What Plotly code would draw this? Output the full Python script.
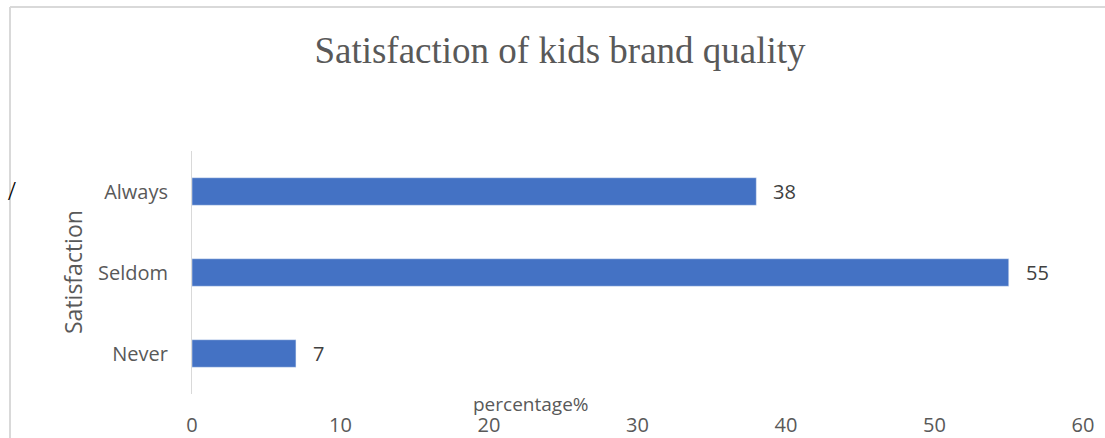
import plotly.graph_objects as go

categories = ["Always", "Seldom", "Never"]
values = [38, 55, 7]
x_ticks = [0, 10, 20, 30, 40, 50, 60]

W, H = 1105, 438
L, R, T, B = 192, 22, 151, 44
pw, ph = W - L - R, H - T - B

def px_x(px):
    return (px - L) / pw

def px_y(py):
    return (H - B - py) / ph

SANS = "Open Sans, Liberation Sans"
fig = go.Figure(go.Bar(
    y=categories, x=values, orientation="h",
    marker_color="#4472C4", width=0.34,
))

annotations = [
    dict(text=str(v), x=v, y=c, xref="x", yref="y", xanchor="left", yanchor="middle",
         xshift=15, showarrow=False, font=dict(family=SANS, size=20, color="#404040"))
    for c, v in zip(categories, values)
]
annotations += [
    dict(text="percentage%", xref="paper", yref="paper", x=px_x(531), y=px_y(404),
         xanchor="center", yanchor="middle", showarrow=False,
         font=dict(family=SANS, size=19, color="#595959")),
    dict(text="Satisfaction", xref="paper", yref="paper", x=px_x(73), y=px_y(272),
         xanchor="center", yanchor="middle", showarrow=False, textangle=-90,
         font=dict(family=SANS, size=23, color="#595959")),
    dict(text="/", xref="paper", yref="paper", x=px_x(12), y=px_y(190),
         xanchor="center", yanchor="middle", showarrow=False,
         font=dict(family="Liberation Serif", size=28, color="#000000")),
]

fig.update_layout(
    width=W, height=H,
    margin=dict(l=L, r=R, t=T, b=B, autoexpand=False),
    paper_bgcolor="white", plot_bgcolor="white",
    showlegend=False,
    title=dict(text="Satisfaction of kids brand quality", x=560 / W, xanchor="center",
               y=1 - 50 / H, yanchor="middle",
               font=dict(family="Liberation Serif, Times New Roman", size=37, color="#595959")),
    xaxis=dict(range=[0, 60], tickvals=x_ticks, showgrid=False, zeroline=False,
               showline=False, ticks="", ticklabelstandoff=17, automargin=False,
               tickfont=dict(family=SANS, size=20, color="#595959")),
    yaxis=dict(categoryorder="array", categoryarray=categories[::-1],
               showgrid=False, zeroline=False, showline=True, linecolor="#d9d9d9",
               linewidth=1, ticks="", ticklabelstandoff=19, automargin=False,
               tickfont=dict(family=SANS, size=20, color="#595959")),
    shapes=[
        dict(type="line", xref="paper", yref="paper", x0=px_x(10), x1=px_x(W + 5),
             y0=px_y(7), y1=px_y(7), line=dict(color="#d9d9d9", width=2)),
        dict(type="line", xref="paper", yref="paper", x0=px_x(10), x1=px_x(10),
             y0=px_y(7), y1=px_y(H + 5), line=dict(color="#d9d9d9", width=2)),
    ],
    annotations=annotations,
)

fig.write_html("out.html", config={"displayModeBar": False},
               post_script="document.body.style.margin='0';document.body.style.overflow='hidden';")
